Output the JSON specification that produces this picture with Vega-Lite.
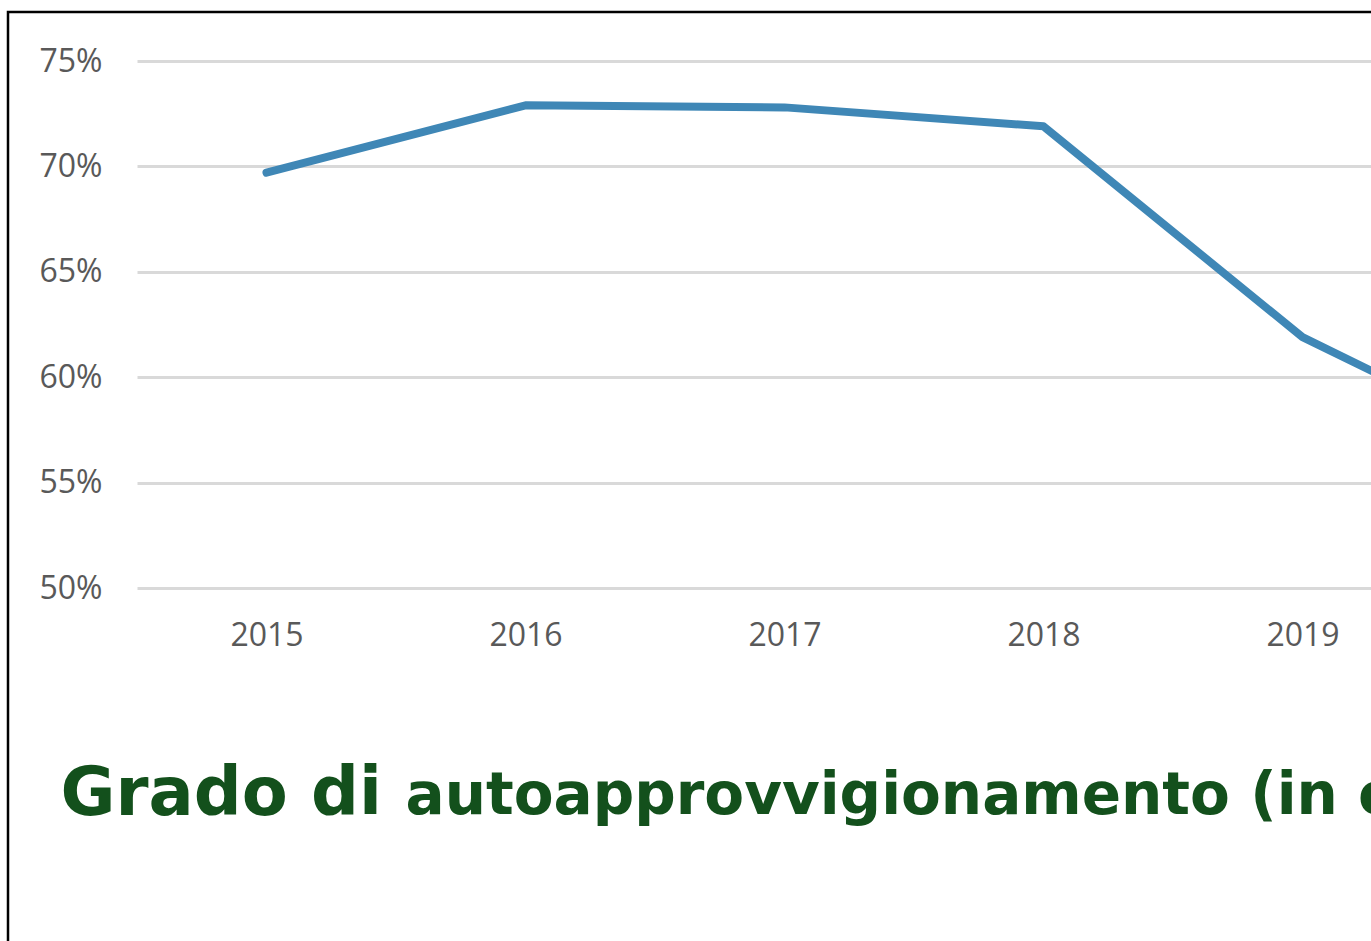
{
  "$schema": "https://vega.github.io/schema/vega-lite/v6.json",
  "autosize": "none",
  "width": 1375,
  "height": 935,
  "padding": {"left": 8, "top": 12, "right": -12, "bottom": -6},
  "background": "white",
  "config": {"view": {"stroke": "black", "strokeWidth": 2.5}},
  "data": {
    "values": [
      {"year": "2015", "value": 0.697},
      {"year": "2016", "value": 0.729},
      {"year": "2017", "value": 0.728},
      {"year": "2018", "value": 0.719},
      {"year": "2019", "value": 0.619},
      {"year": "2020", "value": 0.559}
    ]
  },
  "mark": {"type": "line", "color": "#3f87b6", "strokeWidth": 8, "strokeCap": "round", "strokeJoin": "round", "clip": true},
  "encoding": {
    "x": {
      "field": "year",
      "type": "ordinal",
      "scale": {"type": "point", "range": [129, 1683], "padding": 0.5},
      "axis": {
        "orient": "bottom",
        "offset": -359,
        "values": ["2015", "2016", "2017", "2018", "2019"],
        "domain": false,
        "ticks": false,
        "grid": false,
        "labelAngle": 0,
        "labelFont": "Open Sans",
        "labelFontSize": 32,
        "labelColor": "#595959",
        "labelPadding": 32,
        "labelOverlap": false,
        "title": "autoapprovvigionamento (in calorie)",
        "titleFont": "DejaVu Sans",
        "titleFontWeight": "bold",
        "titleFontSize": 58,
        "titleColor": "#13501c",
        "titleX": 397,
        "titleY": 225,
        "titleAlign": "left",
        "titleBaseline": "alphabetic"
      }
    },
    "y": {
      "field": "value",
      "type": "quantitative",
      "scale": {"domain": [0.5, 0.75], "range": [576, 49], "nice": false, "zero": false},
      "axis": {
        "orient": "left",
        "offset": -129,
        "values": [0.5, 0.55, 0.6, 0.65, 0.7, 0.75],
        "format": ".0%",
        "domain": false,
        "ticks": false,
        "grid": true,
        "gridColor": "#d9d9d9",
        "gridWidth": 3,
        "labelFont": "Open Sans",
        "labelFontSize": 32,
        "labelColor": "#595959",
        "labelPadding": 35,
        "title": "Grado di",
        "titleAngle": 0,
        "titleFont": "DejaVu Sans",
        "titleFontWeight": "bold",
        "titleFontSize": 67,
        "titleColor": "#13501c",
        "titleX": -77,
        "titleY": 802,
        "titleAlign": "left",
        "titleBaseline": "alphabetic"
      }
    }
  }
}
